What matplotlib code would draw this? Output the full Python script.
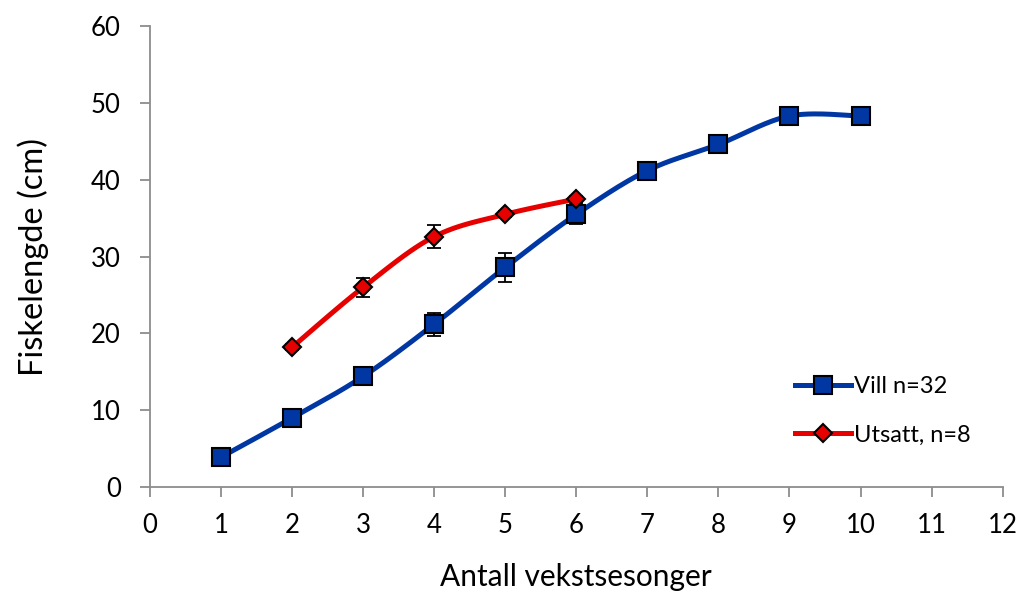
import numpy as np
import matplotlib
matplotlib.use("Agg")
import matplotlib.pyplot as plt
from matplotlib.lines import Line2D

# data
vill_x = [1, 2, 3, 4, 5, 6, 7, 8, 9, 10]
vill_y = [3.9, 9.0, 14.4, 21.2, 28.6, 35.5, 41.2, 44.6, 48.3, 48.3]
vill_err = [0.3, 0.4, 0.5, 1.5, 1.85, 1.3, 0.4, 0.4, 0.3, 0.3]

utsatt_x = [2, 3, 4, 5, 6]
utsatt_y = [18.2, 26.0, 32.6, 35.5, 37.5]
utsatt_err = [0.4, 1.2, 1.5, 0.4, 0.4]

x_ticks = list(range(0, 13))
y_ticks = [0, 10, 20, 30, 40, 50, 60]

BLUE = "#0037a3"
RED = "#e60000"
GRAY = "#8c8c8c"

plt.rcParams['font.family'] = ['Lato', 'DejaVu Sans']


def smooth(x, y, n=30):
    # Excel-like smoothed line (Catmull-Rom through the points)
    x = np.asarray(x, float)
    y = np.asarray(y, float)
    px = np.concatenate([[x[0]], x, [x[-1]]])
    py = np.concatenate([[y[0]], y, [y[-1]]])
    xs, ys = [], []
    for i in range(1, len(px) - 2):
        t = np.linspace(0, 1, n)
        for p, out in ((px, xs), (py, ys)):
            p0, p1, p2, p3 = p[i - 1], p[i], p[i + 1], p[i + 2]
            b1 = p1 + (p2 - p0) / 6
            b2 = p2 - (p3 - p1) / 6
            out.extend((1 - t) ** 3 * p1 + 3 * (1 - t) ** 2 * t * b1
                       + 3 * (1 - t) * t ** 2 * b2 + t ** 3 * p2)
    return np.array(xs), np.array(ys)


fig = plt.figure(figsize=(10.2, 5.94), dpi=100)
ax = fig.add_axes([0.147, 0.18, 0.836, 0.776])

for xs, ys, err, color, marker, ms in [
        (vill_x, vill_y, vill_err, BLUE, 's', 13),
        (utsatt_x, utsatt_y, utsatt_err, RED, 'D', 9.5)]:
    sx, sy = smooth(xs, ys)
    ax.plot(sx, sy, color=color, lw=3.6, solid_capstyle='round', zorder=2)
    ax.errorbar(xs, ys, yerr=err, fmt='none', ecolor='black', elinewidth=1.3,
                capsize=5, capthick=1.3, zorder=3)
    ax.plot(xs, ys, linestyle='none', marker=marker, markersize=ms,
            markerfacecolor=color, markeredgecolor='black', markeredgewidth=1.5,
            zorder=4)

ax.set_xlim(0, 12)
ax.set_ylim(0, 60)
ax.set_xticks(x_ticks)
ax.set_yticks(y_ticks)
ax.tick_params(axis='both', colors=GRAY, labelcolor='black', labelsize=18.5,
               length=7, width=1.3)
ax.tick_params(axis='x', pad=12)
ax.tick_params(axis='y', pad=14)
for s in ['top', 'right']:
    ax.spines[s].set_visible(False)
for s in ['left', 'bottom']:
    ax.spines[s].set_color(GRAY)
    ax.spines[s].set_linewidth(1.3)

ax.set_xlabel("Antall vekstsesonger", fontsize=21.5, labelpad=18)
ax.set_ylabel("Fiskelengde (cm)", fontsize=23.5, labelpad=30)

handles = [
    Line2D([], [], color=BLUE, lw=3.6, marker='s', markersize=13,
           markerfacecolor=BLUE, markeredgecolor='black', markeredgewidth=1.5),
    Line2D([], [], color=RED, lw=3.6, marker='D', markersize=9.5,
           markerfacecolor=RED, markeredgecolor='black', markeredgewidth=1.5),
]
ax.legend(handles, ["Vill n=32", "Utsatt, n=8"], loc='center left',
          bbox_to_anchor=(0.756, 0.165), frameon=False, fontsize=17,
          borderpad=0, borderaxespad=0, handlelength=2.4,
          handletextpad=0.1, labelspacing=1.15)

fig.savefig("out.png", dpi=100)
